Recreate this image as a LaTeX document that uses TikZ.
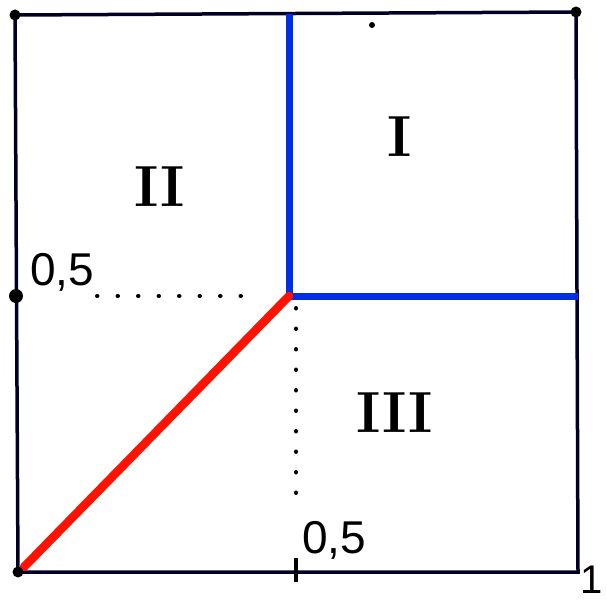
\documentclass[tikz,border=0pt]{standalone}
\usepackage{fontspec}
\newfontfamily\handfont{Liberation Sans}
\begin{document}
\begin{tikzpicture}[x=1pt,y=-1pt,
  frame/.style={line width=3.5pt,black!85!blue},
  blueline/.style={line width=7pt,blue!80!cyan!90!black},
  redline/.style={line width=8.5pt,red!85!orange,line cap=round},
  dotline/.style={line width=4pt,dash pattern=on 0.5pt off 20pt,line cap=round},
  roman/.style={font=\fontsize{58}{58}\selectfont\bfseries},
  tick/.style={font=\handfont\fontsize{46}{46}\selectfont},
  cornerdot/.style={circle,fill=black,inner sep=0pt,minimum size=11pt}]
\useasboundingbox (0,0) rectangle (607,602);
\coordinate (tl) at (15,15);
\coordinate (tr) at (576,12);
\coordinate (br) at (578,572);
\coordinate (bl) at (18,572);
\coordinate (ml) at (16,296);
\coordinate (c) at (289,296);
\coordinate (tm) at (289,14);
\coordinate (mr) at (578,296);
\coordinate (dh) at (97,296);
\coordinate (dhe) at (245,296);
\coordinate (dv) at (296,308);
\coordinate (dve) at (296,500);
\coordinate (tk1) at (296,558);
\coordinate (tk2) at (296,582);
\draw[frame] (tl) -- (tr) -- (br) -- (bl) -- cycle;
\draw[blueline] (tm) -- (c) -- (mr);
\draw[redline] (24,567) -- (c);
\draw[dotline] (dh) -- (dhe);
\draw[dotline] (dv) -- (dve);
\draw[line width=4pt] (tk1) -- (tk2);
\node[cornerdot] (d1) at (tl) {};
\node[cornerdot] (d2) at (tr) {};
\node[cornerdot,minimum size=14pt] (d3) at (ml) {};
\node[cornerdot] (d4) at (bl) {};
\node[circle,fill=black,inner sep=0pt,minimum size=6pt] (d5) at (372,25) {};
\node[roman] (r1) at (400,137) {I};
\node[roman] (r2) at (160,187) {II};
\node[roman] (r3) at (395,413) {III};
\node[tick,anchor=south west,inner sep=0pt] (t1) at (30,292) {0,5};
\node[tick,anchor=south west,inner sep=0pt] (t2) at (302,560) {0,5};
\node[tick,font=\handfont\fontsize{40}{40}\selectfont,inner sep=0pt] (t3) at (592,580) {1};
\end{tikzpicture}
\end{document}
